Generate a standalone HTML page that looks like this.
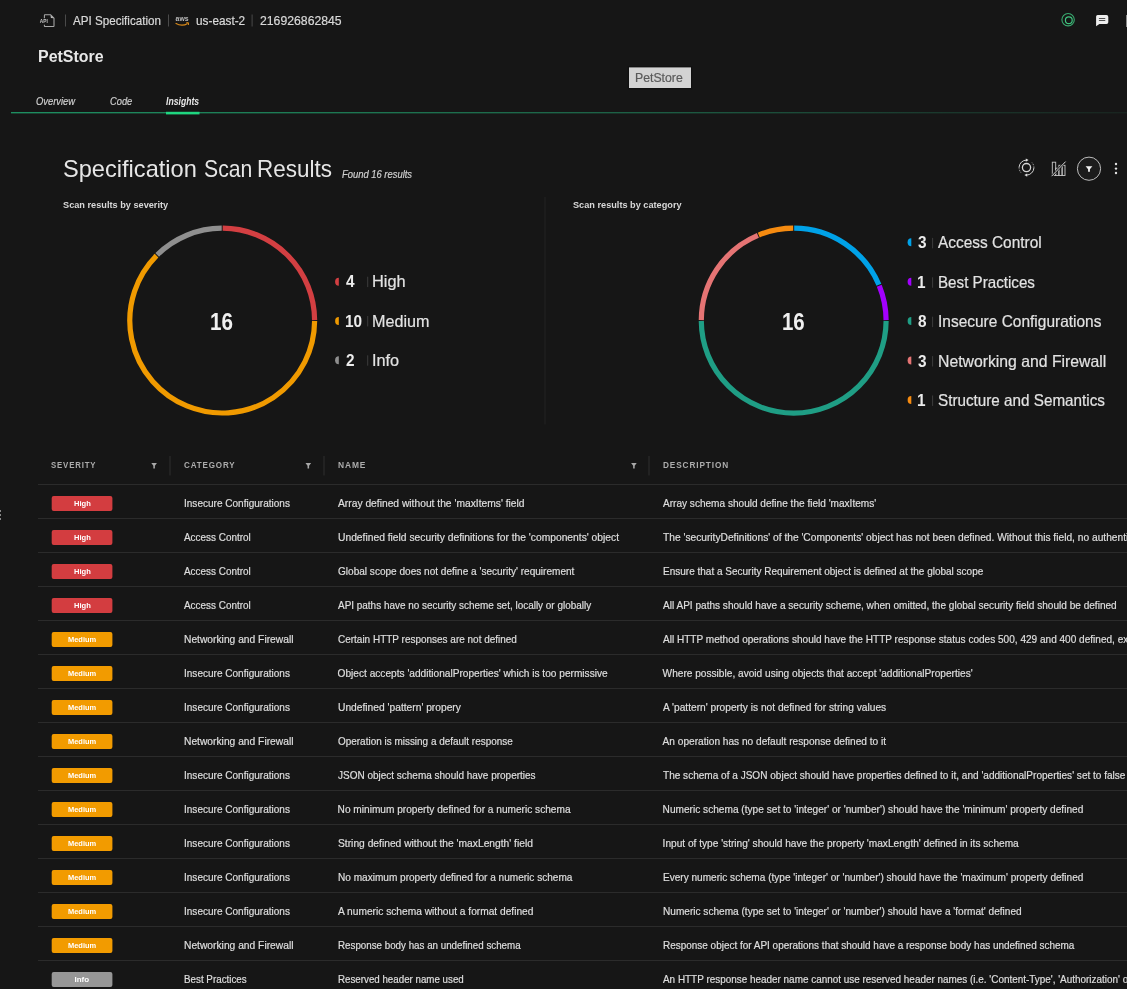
<!DOCTYPE html>
<html><head><meta charset="utf-8"><style>
html,body{margin:0;padding:0;background:#161616;width:1127px;height:989px;overflow:hidden;position:relative}
.t{position:absolute;white-space:nowrap;line-height:1;font-family:'Liberation Sans', sans-serif;transform-origin:0 0}
.s{-webkit-text-stroke:0.2px currentColor}
</style></head><body>
<div style="position:absolute;left:0;top:0;width:1127px;height:989px;will-change:transform">
<svg style="position:absolute;left:0;top:0" width="1127" height="989" viewBox="0 0 1127 989">
<path d="M222.684 228.201 A92.4 92.4 0 0 1 314.599 320.116" stroke="#d33f42" stroke-width="5.2" fill="none"/><path d="M314.599 321.084 A92.4 92.4 0 1 1 156.522 255.606" stroke="#f09a00" stroke-width="5.2" fill="none"/><path d="M157.206 254.922 A92.4 92.4 0 0 1 221.716 228.201" stroke="#8f8f8f" stroke-width="5.2" fill="none"/>
<path d="M794.184 228.201 A92.4 92.4 0 0 1 878.880 284.794" stroke="#00a2e8" stroke-width="5.2" fill="none"/><path d="M879.250 285.688 A92.4 92.4 0 0 1 886.099 320.116" stroke="#a300ff" stroke-width="5.2" fill="none"/><path d="M886.099 321.084 A92.4 92.4 0 0 1 701.301 321.084" stroke="#1f9e85" stroke-width="5.2" fill="none"/><path d="M701.301 320.116 A92.4 92.4 0 0 1 757.894 235.420" stroke="#e57474" stroke-width="5.2" fill="none"/><path d="M758.788 235.050 A92.4 92.4 0 0 1 793.216 228.201" stroke="#f68b10" stroke-width="5.2" fill="none"/>
<path d="M338.80 277.70 A3.7 4 0 0 0 338.80 285.70 Z" fill="#d33f42"/>
<rect x="367.2" y="276.70" width="1" height="10.4" fill="#3c3c3c"/>
<path d="M338.80 317.00 A3.7 4 0 0 0 338.80 325.00 Z" fill="#f09a00"/>
<rect x="367.2" y="316.00" width="1" height="10.4" fill="#3c3c3c"/>
<path d="M338.80 356.30 A3.7 4 0 0 0 338.80 364.30 Z" fill="#8f8f8f"/>
<rect x="367.2" y="355.30" width="1" height="10.4" fill="#3c3c3c"/>
<path d="M911.30 238.30 A3.7 4 0 0 0 911.30 246.30 Z" fill="#00a2e8"/>
<rect x="932.1" y="237.90" width="1" height="10.4" fill="#3c3c3c"/>
<path d="M911.30 277.70 A3.7 4 0 0 0 911.30 285.70 Z" fill="#a300ff"/>
<rect x="932.1" y="277.30" width="1" height="10.4" fill="#3c3c3c"/>
<path d="M911.30 317.10 A3.7 4 0 0 0 911.30 325.10 Z" fill="#1f9e85"/>
<rect x="932.1" y="316.70" width="1" height="10.4" fill="#3c3c3c"/>
<path d="M911.30 356.50 A3.7 4 0 0 0 911.30 364.50 Z" fill="#e57474"/>
<rect x="932.1" y="356.10" width="1" height="10.4" fill="#3c3c3c"/>
<path d="M911.30 395.90 A3.7 4 0 0 0 911.30 403.90 Z" fill="#f68b10"/>
<rect x="932.1" y="395.50" width="1" height="10.4" fill="#3c3c3c"/>
<rect x="38" y="484" width="1089" height="1" fill="#2b2b2b"/>
<rect x="38" y="518" width="1089" height="1" fill="#2b2b2b"/>
<rect x="38" y="552" width="1089" height="1" fill="#2b2b2b"/>
<rect x="38" y="586" width="1089" height="1" fill="#2b2b2b"/>
<rect x="38" y="620" width="1089" height="1" fill="#2b2b2b"/>
<rect x="38" y="654" width="1089" height="1" fill="#2b2b2b"/>
<rect x="38" y="688" width="1089" height="1" fill="#2b2b2b"/>
<rect x="38" y="722" width="1089" height="1" fill="#2b2b2b"/>
<rect x="38" y="756" width="1089" height="1" fill="#2b2b2b"/>
<rect x="38" y="790" width="1089" height="1" fill="#2b2b2b"/>
<rect x="38" y="824" width="1089" height="1" fill="#2b2b2b"/>
<rect x="38" y="858" width="1089" height="1" fill="#2b2b2b"/>
<rect x="38" y="892" width="1089" height="1" fill="#2b2b2b"/>
<rect x="38" y="926" width="1089" height="1" fill="#2b2b2b"/>
<rect x="38" y="960" width="1089" height="1" fill="#2b2b2b"/>
<rect x="38" y="994" width="1089" height="1" fill="#2b2b2b"/>
<rect x="169.5" y="456" width="1" height="19.5" fill="#2e2e2e"/>
<rect x="323.5" y="456" width="1" height="19.5" fill="#2e2e2e"/>
<rect x="648.5" y="456" width="1" height="19.5" fill="#2e2e2e"/>
<path d="M151.3 462.9 h5.6259999999999994 l-2.037 2.91 v2.7159999999999997 h-1.552 v-2.7159999999999997 Z" fill="#a8a8a8"/>
<path d="M305.5 462.9 h5.6259999999999994 l-2.037 2.91 v2.7159999999999997 h-1.552 v-2.7159999999999997 Z" fill="#a8a8a8"/>
<path d="M631.1 462.9 h5.6259999999999994 l-2.037 2.91 v2.7159999999999997 h-1.552 v-2.7159999999999997 Z" fill="#a8a8a8"/>
<rect x="51.7" y="496" width="60.7" height="15" rx="2" fill="#d33d40"/>
<rect x="51.7" y="530" width="60.7" height="15" rx="2" fill="#d33d40"/>
<rect x="51.7" y="564" width="60.7" height="15" rx="2" fill="#d33d40"/>
<rect x="51.7" y="598" width="60.7" height="15" rx="2" fill="#d33d40"/>
<rect x="51.7" y="632" width="60.7" height="15" rx="2" fill="#f29b00"/>
<rect x="51.7" y="666" width="60.7" height="15" rx="2" fill="#f29b00"/>
<rect x="51.7" y="700" width="60.7" height="15" rx="2" fill="#f29b00"/>
<rect x="51.7" y="734" width="60.7" height="15" rx="2" fill="#f29b00"/>
<rect x="51.7" y="768" width="60.7" height="15" rx="2" fill="#f29b00"/>
<rect x="51.7" y="802" width="60.7" height="15" rx="2" fill="#f29b00"/>
<rect x="51.7" y="836" width="60.7" height="15" rx="2" fill="#f29b00"/>
<rect x="51.7" y="870" width="60.7" height="15" rx="2" fill="#f29b00"/>
<rect x="51.7" y="904" width="60.7" height="15" rx="2" fill="#f29b00"/>
<rect x="51.7" y="938" width="60.7" height="15" rx="2" fill="#f29b00"/>
<rect x="51.7" y="972" width="60.7" height="15" rx="2" fill="#979797"/>
<rect x="544.5" y="197" width="1" height="227.5" fill="#232323"/>
<defs><linearGradient id="gl" x1="11" y1="0" x2="1127" y2="0" gradientUnits="userSpaceOnUse"><stop offset="0" stop-color="#20ad74"/><stop offset="0.3" stop-color="#1f8f61"/><stop offset="0.57" stop-color="#1f7050"/><stop offset="0.8" stop-color="#1c4636"/><stop offset="1" stop-color="#1a2822"/></linearGradient></defs>
<rect x="11" y="112.2" width="1116" height="1.1" fill="url(#gl)"/>
<rect x="166" y="111.8" width="33.5" height="2.6" fill="#1fd680"/>
<rect x="627.8" y="66.3" width="64.4" height="22.9" fill="#101010"/>
<rect x="629" y="67.4" width="62" height="20.6" fill="#d3d3d3"/>
<rect x="65" y="14.5" width="1" height="12" fill="#4a4a4a"/>
<rect x="168" y="14.5" width="1" height="12" fill="#4a4a4a"/>
<rect x="251.6" y="14.5" width="1" height="12" fill="#4a4a4a"/>
</svg>

<!-- API doc icon -->
<svg style="position:absolute;left:36px;top:10px" width="24" height="20" viewBox="36 10 24 20">
  <path d="M44.4 18.2 V15.2 Q44.4 14.7 44.9 14.7 H50.6 L54 18.1 V25.9 Q54 26.4 53.5 26.4 H44.9 Q44.4 26.4 44.4 25.9 V24.8" fill="none" stroke="#a9a9a9" stroke-width="1.05"/>
  <path d="M50.4 14.9 L53.9 18.3 L50.9 18.1 Z" fill="#bdbdbd"/>
  <text x="39.8" y="23" font-family="Liberation Sans" font-weight="700" font-size="5.4" fill="#c4c4c4" textLength="8" lengthAdjust="spacingAndGlyphs">API</text>
</svg>
<!-- aws logo -->
<svg style="position:absolute;left:170px;top:10px" width="24" height="20" viewBox="170 10 24 20">
  <text x="175.6" y="21" font-family="Liberation Sans" font-weight="700" font-size="6.6" fill="#bcbcbc" textLength="13" lengthAdjust="spacingAndGlyphs">aws</text>
  <path d="M175.6 23.2 Q182 27 187.6 23.4" fill="none" stroke="#d98a1a" stroke-width="1.2"/>
  <path d="M186.4 22.6 L188.6 22.8 L188.4 25" fill="none" stroke="#d98a1a" stroke-width="1"/>
</svg>
<!-- green concentric icon -->
<svg style="position:absolute;left:1058px;top:10px" width="22" height="20" viewBox="1058 10 22 20">
  <circle cx="1068.1" cy="19.7" r="6.2" fill="none" stroke="#3fc47f" stroke-opacity="0.85" stroke-width="1.1"/>
  <circle cx="1068.8" cy="20.3" r="3.4" fill="none" stroke="#3fc47f" stroke-width="1.2"/>
</svg>
<!-- chat bubble -->
<svg style="position:absolute;left:1094px;top:13px" width="16" height="15" viewBox="0 0 16 15">
  <path d="M3.6 2.1 H12.5 Q14.3 2.1 14.3 3.9 V9.2 Q14.3 11 12.5 11 H5.4 L2.1 13.2 V3.6 Q2.1 2.1 3.6 2.1 Z" fill="#eeeeee"/>
  <rect x="4.8" y="5" width="6.6" height="1.05" rx="0.5" fill="#505050"/>
  <rect x="4.8" y="6.95" width="6.6" height="1.05" rx="0.5" fill="#505050"/>
</svg>
<div style="position:absolute;left:1126px;top:14.5px;width:1px;height:12.5px;background:#8a8a8a"></div>
<!-- refresh icon -->
<svg style="position:absolute;left:1012px;top:153px" width="30" height="30" viewBox="1012 153 30 30">
  <circle cx="1026.5" cy="167.6" r="4.1" fill="none" stroke="#d6d6d6" stroke-width="1.3"/>
  <path d="M1026.6 160.1 A7.5 7.5 0 0 0 1019.1 167" fill="none" stroke="#cfcfcf" stroke-width="1"/>
  <path d="M1019.1 167 A7.5 7.5 0 0 0 1021.2 172.9" fill="none" stroke="#bdbdbd" stroke-width="0.9" stroke-dasharray="1.6 1.2"/>
  <path d="M1026.4 175.1 A7.5 7.5 0 0 0 1033.9 168" fill="none" stroke="#cfcfcf" stroke-width="1"/>
  <path d="M1033.9 168 A7.5 7.5 0 0 0 1031.8 162.3" fill="none" stroke="#bdbdbd" stroke-width="0.9" stroke-dasharray="1.6 1.2"/>
  <path d="M1025.8 158.4 L1028.6 160.1 L1025.8 161.8 Z" fill="#dcdcdc"/>
  <path d="M1027.2 173.4 L1024.4 175.1 L1027.2 176.8 Z" fill="#dcdcdc"/>
</svg>
<!-- chart icon -->
<svg style="position:absolute;left:1048px;top:158px" width="20" height="20" viewBox="1048 158 20 20">
  <rect x="1052.3" y="162.2" width="3.4" height="13.3" fill="none" stroke="#c8c8c8" stroke-width="0.9"/>
  <rect x="1055.7" y="168.2" width="3.2" height="7.3" fill="none" stroke="#c8c8c8" stroke-width="0.9"/>
  <rect x="1058.9" y="165.3" width="3.2" height="10.2" fill="none" stroke="#c8c8c8" stroke-width="0.9"/>
  <rect x="1062.1" y="165.3" width="2.9" height="10.2" fill="none" stroke="#c8c8c8" stroke-width="0.9"/>
  <path d="M1051.6 176.2 L1065.6 161.6" stroke="#161616" stroke-width="2.2"/>
  <path d="M1051.6 176.2 L1065.6 161.6" stroke="#d8d8d8" stroke-width="1"/>
</svg>
<!-- filter circle -->
<svg style="position:absolute;left:1076px;top:156px" width="26" height="26" viewBox="0 0 26 26">
  <circle cx="13" cy="12.7" r="11.6" fill="#1c1c1c" stroke="#bdbdbd" stroke-width="1"/>
  <path d="M9.6 10.2 H16.4 L13.9 13.3 V15.8 H12.1 V13.3 Z" fill="#f2f2f2"/>
</svg>
<!-- kebab -->
<svg style="position:absolute;left:1113px;top:161px" width="6" height="16" viewBox="0 0 6 16">
  <circle cx="3" cy="3" r="1.2" fill="#e2e2e2"/>
  <circle cx="3" cy="7.6" r="1.2" fill="#e2e2e2"/>
  <circle cx="3" cy="12" r="1.2" fill="#e2e2e2"/>
</svg>
<!-- left edge dots -->
<div style="position:absolute;left:0;top:510px;width:1px;height:2px;background:#888"></div>
<div style="position:absolute;left:0;top:514px;width:1px;height:2px;background:#888"></div>
<div style="position:absolute;left:0;top:517.5px;width:1px;height:2px;background:#888"></div>

<div class="t s" style="left:72.90px;top:15.00px;font-size:12.6px;color:#d9d9d9;transform:scaleX(0.9242);">API Specification</div>
<div class="t s" style="left:195.90px;top:15.00px;font-size:12.6px;color:#d9d9d9;transform:scaleX(0.9365);">us-east-2</div>
<div class="t s" style="left:259.90px;top:15.00px;font-size:12.6px;color:#d9d9d9;transform:scaleX(0.9714);">216926862845</div>
<div class="t" style="left:37.68px;top:48.00px;font-size:17.4px;font-weight:700;color:#e8e8e8;transform:scaleX(0.9171);">PetStore</div>
<div class="t s" style="left:36.00px;top:96.00px;font-size:11px;font-style:italic;color:#cfcfcf;transform:scaleX(0.8511);">Overview</div>
<div class="t s" style="left:110.00px;top:96.00px;font-size:11px;font-style:italic;color:#cfcfcf;transform:scaleX(0.8462);">Code</div>
<div class="t" style="left:166.00px;top:96.00px;font-size:11px;font-weight:700;font-style:italic;color:#e8e8e8;transform:scaleX(0.7857);">Insights</div>
<div class="t s" style="left:634.98px;top:72.00px;font-size:12px;color:#5a5a5a;transform:scaleX(1.0217);">PetStore</div>
<div class="t" style="left:63.02px;top:157.00px;font-size:24px;color:#e6e6e6;transform:scaleX(0.9836);">Specification</div>
<div class="t" style="left:203.52px;top:157.00px;font-size:24px;color:#e6e6e6;transform:scaleX(0.8830);">Scan</div>
<div class="t" style="left:257.33px;top:157.00px;font-size:24px;color:#e6e6e6;transform:scaleX(0.9359);">Results</div>
<div class="t s" style="left:341.60px;top:170.00px;font-size:10px;font-style:italic;color:#cfcfcf;transform:scaleX(0.9405);">Found 16 results</div>
<div class="t" style="left:63.20px;top:200.00px;font-size:9.6px;font-weight:700;color:#d8d8d8;transform:scaleX(0.9573);">Scan results by severity</div>
<div class="t" style="left:572.60px;top:200.00px;font-size:9.6px;font-weight:700;color:#d8d8d8;transform:scaleX(0.9561);">Scan results by category</div>
<div class="t" style="left:209.94px;top:310.00px;font-size:24px;font-weight:700;color:#f0f0f0;transform:scaleX(0.8600);">16</div>
<div class="t" style="left:782.15px;top:310.00px;font-size:24px;font-weight:700;color:#f0f0f0;transform:scaleX(0.8520);">16</div>
<div class="t s" style="left:183.50px;top:499.00px;font-size:10.15px;color:#dedede;transform:scaleX(0.9907);">Insecure Configurations</div>
<div class="t s" style="left:337.60px;top:499.00px;font-size:10.15px;color:#dedede;transform:scaleX(1.0141);">Array defined without the &#x27;maxItems&#x27; field</div>
<div class="t s" style="left:662.60px;top:499.00px;font-size:10.15px;color:#dedede;transform:scaleX(0.9944);">Array schema should define the field &#x27;maxItems&#x27;</div>
<div class="t s" style="left:183.50px;top:533.00px;font-size:10.15px;color:#dedede;transform:scaleX(0.9809);">Access Control</div>
<div class="t s" style="left:337.60px;top:533.00px;font-size:10.15px;color:#dedede;transform:scaleX(1.0152);">Undefined field security definitions for the &#x27;components&#x27; object</div>
<div class="t s" style="left:662.60px;top:533.00px;font-size:10.15px;color:#dedede;transform:scaleX(1.0085);">The &#x27;securityDefinitions&#x27; of the &#x27;Components&#x27; object has not been defined. Without this field, no authentication</div>
<div class="t s" style="left:183.50px;top:567.00px;font-size:10.15px;color:#dedede;transform:scaleX(0.9809);">Access Control</div>
<div class="t s" style="left:337.60px;top:567.00px;font-size:10.15px;color:#dedede;transform:scaleX(0.9933);">Global scope does not define a &#x27;security&#x27; requirement</div>
<div class="t s" style="left:662.60px;top:567.00px;font-size:10.15px;color:#dedede;transform:scaleX(0.9880);">Ensure that a Security Requirement object is defined at the global scope</div>
<div class="t s" style="left:183.50px;top:601.00px;font-size:10.15px;color:#dedede;transform:scaleX(0.9809);">Access Control</div>
<div class="t s" style="left:337.60px;top:601.00px;font-size:10.15px;color:#dedede;transform:scaleX(0.9822);">API paths have no security scheme set, locally or globally</div>
<div class="t s" style="left:662.60px;top:601.00px;font-size:10.15px;color:#dedede;transform:scaleX(0.9939);">All API paths should have a security scheme, when omitted, the global security field should be defined</div>
<div class="t s" style="left:183.50px;top:635.00px;font-size:10.15px;color:#dedede;transform:scaleX(1.0130);">Networking and Firewall</div>
<div class="t s" style="left:337.60px;top:635.00px;font-size:10.15px;color:#dedede;transform:scaleX(0.9851);">Certain HTTP responses are not defined</div>
<div class="t s" style="left:662.60px;top:635.00px;font-size:10.15px;color:#dedede;transform:scaleX(0.9932);">All HTTP method operations should have the HTTP response status codes 500, 429 and 400 defined, except</div>
<div class="t s" style="left:183.50px;top:669.00px;font-size:10.15px;color:#dedede;transform:scaleX(0.9907);">Insecure Configurations</div>
<div class="t s" style="left:337.60px;top:669.00px;font-size:10.15px;color:#dedede;">Object accepts &#x27;additionalProperties&#x27; which is too permissive</div>
<div class="t s" style="left:662.60px;top:669.00px;font-size:10.15px;color:#dedede;">Where possible, avoid using objects that accept &#x27;additionalProperties&#x27;</div>
<div class="t s" style="left:183.50px;top:703.00px;font-size:10.15px;color:#dedede;transform:scaleX(0.9907);">Insecure Configurations</div>
<div class="t s" style="left:337.60px;top:703.00px;font-size:10.15px;color:#dedede;transform:scaleX(1.0115);">Undefined &#x27;pattern&#x27; propery</div>
<div class="t s" style="left:662.60px;top:703.00px;font-size:10.15px;color:#dedede;transform:scaleX(1.0068);">A &#x27;pattern&#x27; property is not defined for string values</div>
<div class="t s" style="left:183.50px;top:737.00px;font-size:10.15px;color:#dedede;transform:scaleX(1.0130);">Networking and Firewall</div>
<div class="t s" style="left:337.60px;top:737.00px;font-size:10.15px;color:#dedede;transform:scaleX(0.9826);">Operation is missing a default response</div>
<div class="t s" style="left:662.60px;top:737.00px;font-size:10.15px;color:#dedede;">An operation has no default response defined to it</div>
<div class="t s" style="left:183.50px;top:771.00px;font-size:10.15px;color:#dedede;transform:scaleX(0.9907);">Insecure Configurations</div>
<div class="t s" style="left:337.60px;top:771.00px;font-size:10.15px;color:#dedede;transform:scaleX(0.9860);">JSON object schema should have properties</div>
<div class="t s" style="left:662.60px;top:771.00px;font-size:10.15px;color:#dedede;transform:scaleX(0.9925);">The schema of a JSON object should have properties defined to it, and &#x27;additionalProperties&#x27; set to false</div>
<div class="t s" style="left:183.50px;top:805.00px;font-size:10.15px;color:#dedede;transform:scaleX(0.9907);">Insecure Configurations</div>
<div class="t s" style="left:337.60px;top:805.00px;font-size:10.15px;color:#dedede;">No minimum property defined for a numeric schema</div>
<div class="t s" style="left:662.60px;top:805.00px;font-size:10.15px;color:#dedede;">Numeric schema (type set to &#x27;integer&#x27; or &#x27;number&#x27;) should have the &#x27;minimum&#x27; property defined</div>
<div class="t s" style="left:183.50px;top:839.00px;font-size:10.15px;color:#dedede;transform:scaleX(0.9907);">Insecure Configurations</div>
<div class="t s" style="left:337.60px;top:839.00px;font-size:10.15px;color:#dedede;transform:scaleX(1.0130);">String defined without the &#x27;maxLength&#x27; field</div>
<div class="t s" style="left:662.60px;top:839.00px;font-size:10.15px;color:#dedede;">Input of type &#x27;string&#x27; should have the property &#x27;maxLength&#x27; defined in its schema</div>
<div class="t s" style="left:183.50px;top:873.00px;font-size:10.15px;color:#dedede;transform:scaleX(0.9907);">Insecure Configurations</div>
<div class="t s" style="left:337.60px;top:873.00px;font-size:10.15px;color:#dedede;transform:scaleX(0.9941);">No maximum property defined for a numeric schema</div>
<div class="t s" style="left:662.60px;top:873.00px;font-size:10.15px;color:#dedede;transform:scaleX(0.9939);">Every numeric schema (type &#x27;integer&#x27; or &#x27;number&#x27;) should have the &#x27;maximum&#x27; property defined</div>
<div class="t s" style="left:183.50px;top:907.00px;font-size:10.15px;color:#dedede;transform:scaleX(0.9907);">Insecure Configurations</div>
<div class="t s" style="left:337.60px;top:907.00px;font-size:10.15px;color:#dedede;transform:scaleX(1.0067);">A numeric schema without a format defined</div>
<div class="t s" style="left:662.60px;top:907.00px;font-size:10.15px;color:#dedede;transform:scaleX(0.9964);">Numeric schema (type set to &#x27;integer&#x27; or &#x27;number&#x27;) should have a &#x27;format&#x27; defined</div>
<div class="t s" style="left:183.50px;top:941.00px;font-size:10.15px;color:#dedede;transform:scaleX(1.0130);">Networking and Firewall</div>
<div class="t s" style="left:337.60px;top:941.00px;font-size:10.15px;color:#dedede;transform:scaleX(0.9656);">Response body has an undefined schema</div>
<div class="t s" style="left:662.60px;top:941.00px;font-size:10.15px;color:#dedede;transform:scaleX(0.9835);">Response object for API operations that should have a response body has undefined schema</div>
<div class="t s" style="left:183.50px;top:975.00px;font-size:10.15px;color:#dedede;transform:scaleX(0.9692);">Best Practices</div>
<div class="t s" style="left:337.60px;top:975.00px;font-size:10.15px;color:#dedede;transform:scaleX(0.9631);">Reserved header name used</div>
<div class="t s" style="left:662.60px;top:975.00px;font-size:10.15px;color:#dedede;transform:scaleX(0.9800);">An HTTP response header name cannot use reserved header names (i.e. &#x27;Content-Type&#x27;, &#x27;Authorization&#x27; or</div>
<div class="t" style="left:51.40px;top:461.00px;font-size:9.3px;font-weight:700;letter-spacing:1.0px;color:#acacac;transform:scaleX(0.8396);">SEVERITY</div>
<div class="t" style="left:184.00px;top:461.00px;font-size:9.3px;font-weight:700;letter-spacing:1.0px;color:#acacac;transform:scaleX(0.8644);">CATEGORY</div>
<div class="t" style="left:337.90px;top:461.00px;font-size:9.3px;font-weight:700;letter-spacing:1.0px;color:#acacac;transform:scaleX(0.9032);">NAME</div>
<div class="t" style="left:662.90px;top:461.00px;font-size:9.3px;font-weight:700;letter-spacing:1.0px;color:#acacac;transform:scaleX(0.8863);">DESCRIPTION</div>
<div class="t" style="left:346.00px;top:273.00px;font-size:16.5px;font-weight:700;color:#ececec;transform:scaleX(0.9300);">4</div>
<div class="t s" style="left:372.30px;top:273.00px;font-size:16.5px;color:#e2e2e2;transform:scaleX(0.9909);">High</div>
<div class="t" style="left:345.07px;top:313.00px;font-size:16.5px;font-weight:700;color:#ececec;transform:scaleX(0.9300);">10</div>
<div class="t s" style="left:372.30px;top:313.00px;font-size:16.5px;color:#e2e2e2;transform:scaleX(0.9793);">Medium</div>
<div class="t" style="left:346.00px;top:352.00px;font-size:16.5px;font-weight:700;color:#ececec;transform:scaleX(0.9300);">2</div>
<div class="t s" style="left:372.30px;top:352.00px;font-size:16.5px;color:#e2e2e2;transform:scaleX(0.9852);">Info</div>
<div class="t" style="left:918.20px;top:234.00px;font-size:16.5px;font-weight:700;color:#ececec;transform:scaleX(0.9300);">3</div>
<div class="t s" style="left:937.80px;top:234.00px;font-size:16.5px;color:#e2e2e2;transform:scaleX(0.9345);">Access Control</div>
<div class="t" style="left:917.27px;top:274.00px;font-size:16.5px;font-weight:700;color:#ececec;transform:scaleX(0.9300);">1</div>
<div class="t s" style="left:937.80px;top:274.00px;font-size:16.5px;color:#e2e2e2;transform:scaleX(0.9190);">Best Practices</div>
<div class="t" style="left:918.20px;top:313.00px;font-size:16.5px;font-weight:700;color:#ececec;transform:scaleX(0.9300);">8</div>
<div class="t s" style="left:937.80px;top:313.00px;font-size:16.5px;color:#e2e2e2;transform:scaleX(0.9379);">Insecure Configurations</div>
<div class="t" style="left:918.20px;top:353.00px;font-size:16.5px;font-weight:700;color:#ececec;transform:scaleX(0.9300);">3</div>
<div class="t s" style="left:937.80px;top:353.00px;font-size:16.5px;color:#e2e2e2;transform:scaleX(0.9557);">Networking and Firewall</div>
<div class="t" style="left:917.27px;top:392.00px;font-size:16.5px;font-weight:700;color:#ececec;transform:scaleX(0.9300);">1</div>
<div class="t s" style="left:937.80px;top:392.00px;font-size:16.5px;color:#e2e2e2;transform:scaleX(0.9238);">Structure and Semantics</div>
<div class="t" style="left:73.50px;top:500.00px;font-size:8px;font-weight:700;color:#ffffff;transform:scaleX(0.9444);">High</div>
<div class="t" style="left:73.50px;top:534.00px;font-size:8px;font-weight:700;color:#ffffff;transform:scaleX(0.9444);">High</div>
<div class="t" style="left:73.50px;top:568.00px;font-size:8px;font-weight:700;color:#ffffff;transform:scaleX(0.9444);">High</div>
<div class="t" style="left:73.50px;top:602.00px;font-size:8px;font-weight:700;color:#ffffff;transform:scaleX(0.9444);">High</div>
<div class="t" style="left:68.00px;top:636.00px;font-size:8px;font-weight:700;color:#ffffff;transform:scaleX(0.9333);">Medium</div>
<div class="t" style="left:68.00px;top:670.00px;font-size:8px;font-weight:700;color:#ffffff;transform:scaleX(0.9333);">Medium</div>
<div class="t" style="left:68.00px;top:704.00px;font-size:8px;font-weight:700;color:#ffffff;transform:scaleX(0.9333);">Medium</div>
<div class="t" style="left:68.00px;top:738.00px;font-size:8px;font-weight:700;color:#ffffff;transform:scaleX(0.9333);">Medium</div>
<div class="t" style="left:68.00px;top:772.00px;font-size:8px;font-weight:700;color:#ffffff;transform:scaleX(0.9333);">Medium</div>
<div class="t" style="left:68.00px;top:806.00px;font-size:8px;font-weight:700;color:#ffffff;transform:scaleX(0.9333);">Medium</div>
<div class="t" style="left:68.00px;top:840.00px;font-size:8px;font-weight:700;color:#ffffff;transform:scaleX(0.9333);">Medium</div>
<div class="t" style="left:68.00px;top:874.00px;font-size:8px;font-weight:700;color:#ffffff;transform:scaleX(0.9333);">Medium</div>
<div class="t" style="left:68.00px;top:908.00px;font-size:8px;font-weight:700;color:#ffffff;transform:scaleX(0.9333);">Medium</div>
<div class="t" style="left:68.00px;top:942.00px;font-size:8px;font-weight:700;color:#ffffff;transform:scaleX(0.9333);">Medium</div>
<div class="t" style="left:74.50px;top:976.00px;font-size:8px;font-weight:700;color:#ffffff;">Info</div>
</div>
</body></html>
